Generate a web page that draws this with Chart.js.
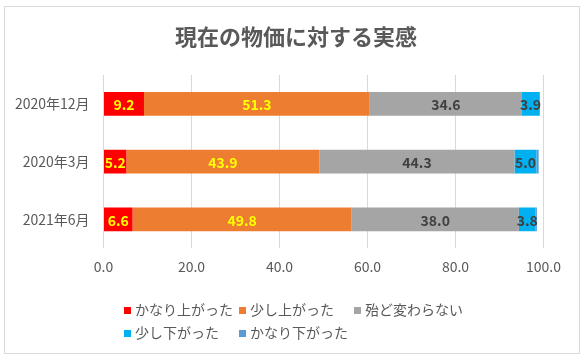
<!DOCTYPE html>
<html>
<head>
<meta charset="utf-8">
<script src="https://cdn.jsdelivr.net/npm/chart.js@4.4.1/dist/chart.umd.min.js"></script>
<style>
  body { margin: 0; background: #fff; font-family: "Noto Sans CJK JP", sans-serif; }
  #frame { position: absolute; left: 4px; top: 6px; width: 574px; height: 346px; border: 1px solid #d9d9d9; }
  #wrap { position: absolute; left: 0; top: 0; width: 574px; height: 346px; }
  #legend { position: absolute; left: 0; top: 0; width: 574px; height: 346px; pointer-events: none; }
  .item { position: absolute; font-size: 14px; color: #595959; line-height: 16px; white-space: nowrap; }
  .box { display: inline-block; width: 7px; height: 7px; margin-right: 4px; vertical-align: 1px; }
</style>
</head>
<body>
<div id="frame">
  <div id="wrap"><canvas id="chart"></canvas></div>
  <div id="legend"></div>
</div>
<script>
const categories = ['2020年12月', '2020年3月', '2021年6月'];
const seriesNames = ['かなり上がった', '少し上がった', '殆ど変わらない', '少し下がった', 'かなり下がった'];
const kanariUp = [9.2, 5.2, 6.6];
const sukoshiUp = [51.3, 43.9, 49.8];
const hotondo = [34.6, 44.3, 38.0];
const sukoshiDown = [3.9, 5.0, 3.8];
const kanariDown = [0.2, 0.5, 0.3];
const xTicks = [0, 20, 40, 60, 80, 100];

const colors = ['#FF0000', '#ED7D31', '#A5A5A5', '#00B0F0', '#5B9BD5'];
const labelColors = ['#FFFF00', '#FFFF00', '#404040', '#404040', null];
const seriesData = [kanariUp, sukoshiUp, hotondo, sukoshiDown, kanariDown];

const FONT = '"Noto Sans CJK JP", "Noto Sans", sans-serif';

// value labels in the middle of each segment
const segmentLabels = {
    id: 'segmentLabels',
    afterDatasetsDraw(chart) {
        const ctx = chart.ctx;
        ctx.save();
        ctx.font = 'bold 14px ' + FONT;
        ctx.textAlign = 'center';
        ctx.textBaseline = 'middle';
        chart.data.datasets.forEach((ds, i) => {
            if (!labelColors[i]) return;
            ctx.fillStyle = labelColors[i];
            chart.getDatasetMeta(i).data.forEach((bar, j) => {
                const cx = (bar.x + bar.base) / 2;
                ctx.fillText(ds.data[j].toFixed(1), cx, bar.y + 1);
            });
        });
        ctx.restore();
    }
};

const datasets = seriesNames.map((name, i) => ({
    label: name,
    data: seriesData[i],
    backgroundColor: colors[i],
    borderWidth: 0,
    barPercentage: 0.5,
    categoryPercentage: 0.82
}));

const chart = new Chart(document.getElementById('chart'), {
    type: 'bar',
    data: { labels: categories, datasets: datasets },
    options: {
        indexAxis: 'y',
        responsive: true,
        maintainAspectRatio: false,
        animation: false,
        layout: { padding: { left: 8, right: 0, top: 0, bottom: 68 } },
        scales: {
            x: {
                stacked: true,
                min: 0,
                max: 100,
                afterBuildTicks: (scale) => { scale.ticks = xTicks.map(v => ({ value: v })); },
                // keep the right gap on the axis so the title stays centred on the frame
                afterFit: (scale) => { scale.paddingRight = 35.5; },
                grid: { color: '#d9d9d9', drawTicks: false },
                border: { display: false },
                ticks: {
                    padding: 10,
                    color: '#595959',
                    font: { family: FONT, size: 14 },
                    callback: (v) => Number(v).toFixed(1)
                }
            },
            y: {
                stacked: true,
                grid: { display: false, drawTicks: false },
                border: { display: false },
                afterFit: (scale) => { scale.width = 90.5; },
                ticks: {
                    padding: 14,
                    color: '#595959',
                    font: { family: FONT, size: 14 }
                }
            }
        },
        plugins: {
            legend: { display: false },
            tooltip: { enabled: false },
            title: {
                display: true,
                text: '現在の物価に対する実感',
                color: '#595959',
                font: { family: FONT, size: 22, weight: 'bold' },
                padding: { top: 16, bottom: 25.6 }
            }
        }
    },
    plugins: [segmentLabels]
});

// legend laid out in a grid like the original
const legendEl = document.getElementById('legend');
seriesNames.forEach((name, i) => {
    const row = Math.floor(i / 3), col = i % 3;
    const item = document.createElement('div');
    item.className = 'item';
    item.style.left = (119 + col * 115) + 'px';
    item.style.top = (294 + row * 23) + 'px';
    const box = document.createElement('span');
    box.className = 'box';
    box.style.background = colors[i];
    item.appendChild(box);
    item.appendChild(document.createTextNode(name));
    legendEl.appendChild(item);
});
</script>
</body>
</html>
